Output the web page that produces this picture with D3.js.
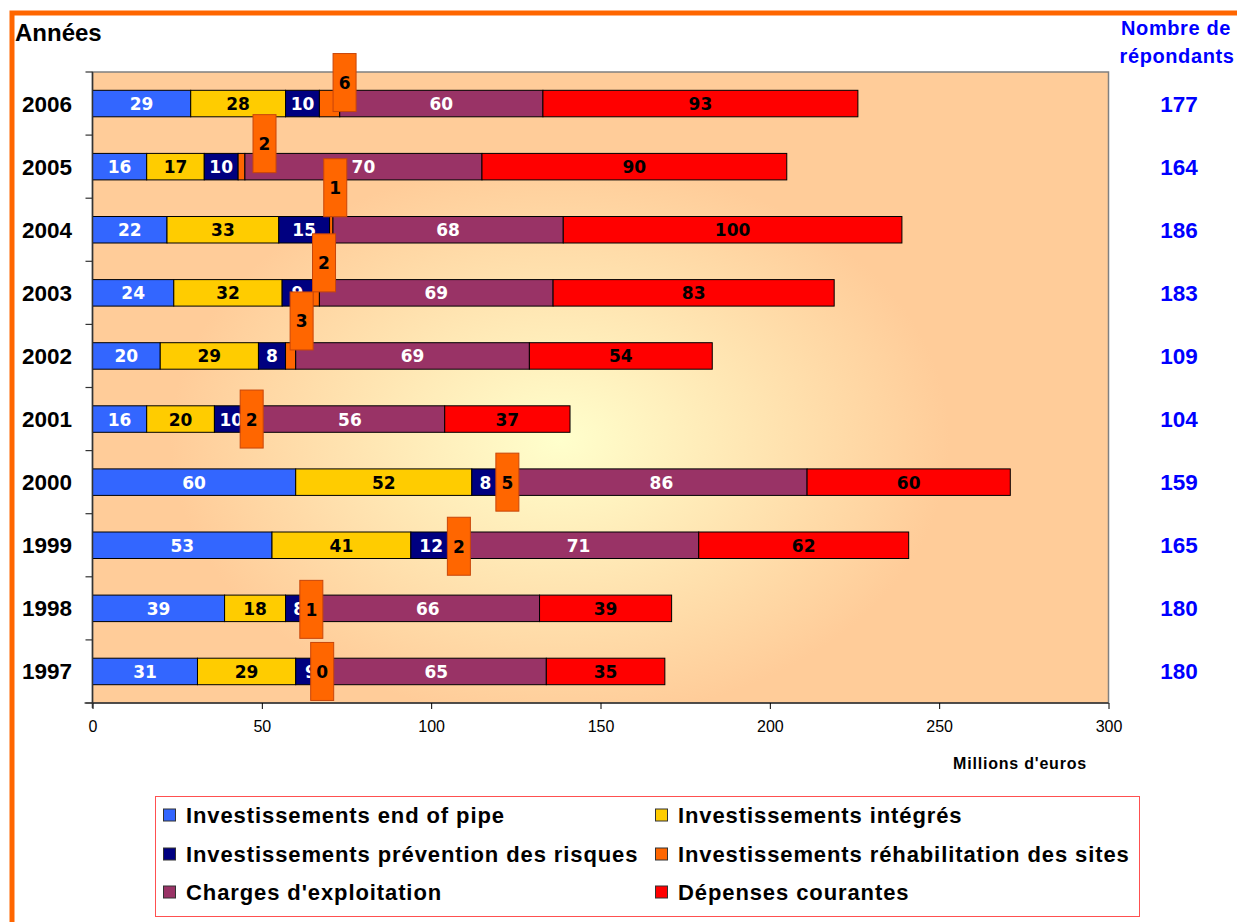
<!DOCTYPE html>
<html>
<head>
<meta charset="utf-8">
<script src="https://cdn.jsdelivr.net/npm/d3@7"></script>
<style>
  body { margin: 0; background: #ffffff; }
  svg { display: block; }
</style>
</head>
<body>
<svg id="chart" width="1237" height="922"></svg>
<script>
// Dépenses environnementales par année (millions d'euros)
const years = ["2006", "2005", "2004", "2003", "2002", "2001", "2000", "1999", "1998", "1997"];
const endOfPipe      = [29, 16, 22, 24, 20, 16, 60, 53, 39, 31];
const integres       = [28, 17, 33, 32, 29, 20, 52, 41, 18, 29];
const prevention     = [10, 10, 15,  9,  8, 10,  8, 12,  8,  9];
const rehabilitation = [ 6,  2,  1,  2,  3,  2,  5,  2,  1,  0];
const charges        = [60, 70, 68, 69, 69, 56, 86, 71, 66, 65];
const depenses       = [93, 90, 100, 83, 54, 37, 60, 62, 39, 35];
const respondants    = [177, 164, 186, 183, 109, 104, 159, 165, 180, 180];
const xTicks = [0, 50, 100, 150, 200, 250, 300];
const seriesNames = [
  "Investissements end of pipe",
  "Investissements intégrés",
  "Investissements prévention des risques",
  "Investissements réhabilitation des sites",
  "Charges d'exploitation",
  "Dépenses courantes"
];

// styling
const seriesColors = ["#3366FF", "#FFCC00", "#000080", "#FF6600", "#993366", "#FF0000"];
const labelColors  = ["#ffffff", "#000000", "#ffffff", "#000000", "#ffffff", "#000000"];
const REHAB = 3;
// the réhabilitation callouts were moved by hand off their segments (px: dx, dy)
const calloutShift = [[15, -21], [23, -23], [4, -42], [8, -30], [11, -35],
                      [0, 0], [0, 0], [4, 1], [-3, 1], [-4, 0]];

const values = [endOfPipe, integres, prevention, rehabilitation, charges, depenses];
const table = years.map((year, i) => {
  const row = { year };
  seriesNames.forEach((s, k) => row[s] = values[k][i]);
  return row;
});
const stacked = d3.stack().keys(seriesNames)(table);

const plot = { left: 92.5, right: 1108.5, top: 72, bottom: 703 };
const svg = d3.select("#chart");
const labelFont = "'DejaVu Sans', sans-serif";
const textFont = "'Liberation Sans', Arial, sans-serif";

const x = d3.scaleLinear().domain([0, 300]).range([plot.left, plot.right]);
const y = d3.scaleBand().domain(years).range([plot.top, plot.bottom]);
const barH = 26.5;
const yc = d => y(d) + y.bandwidth() / 2;

// outer orange frame
svg.append("rect")
  .attr("x", 12).attr("y", 13).attr("width", 1260).attr("height", 940)
  .attr("fill", "none").attr("stroke", "#FF6600").attr("stroke-width", 5);

// plot background gradient
const defs = svg.append("defs");
const grad = defs.append("radialGradient").attr("id", "bg")
  .attr("gradientUnits", "userSpaceOnUse")
  .attr("cx", 560).attr("cy", 440).attr("r", 520)
  .attr("gradientTransform", "translate(560,440) scale(1,0.72) translate(-560,-440)");
grad.append("stop").attr("offset", "0%").attr("stop-color", "#FFFFCC");
grad.append("stop").attr("offset", "75%").attr("stop-color", "#FFCC99");
grad.append("stop").attr("offset", "100%").attr("stop-color", "#FFCC99");

svg.append("rect")
  .attr("x", plot.left).attr("y", plot.top)
  .attr("width", plot.right - plot.left).attr("height", plot.bottom - plot.top)
  .attr("fill", "url(#bg)").attr("stroke", "#808080").attr("stroke-width", 1.5);

// bars
const layers = svg.append("g").selectAll("g").data(stacked).join("g")
  .attr("fill", (d, k) => seriesColors[k]);
layers.selectAll("rect").data(d => d).join("rect")
  .attr("x", d => x(d[0]))
  .attr("y", d => yc(d.data.year) - barH / 2)
  .attr("width", d => x(d[1]) - x(d[0]))
  .attr("height", barH)
  .attr("stroke", "#000").attr("stroke-width", 1);

// segment labels (except réhabilitation)
stacked.forEach((layer, k) => {
  if (k === REHAB) return;
  svg.append("g").selectAll("text").data(layer).join("text")
    .attr("x", d => x((d[0] + d[1]) / 2))
    .attr("y", d => yc(d.data.year) + 6.5)
    .attr("text-anchor", "middle")
    .attr("font-family", labelFont).attr("font-weight", "bold").attr("font-size", 17)
    .attr("fill", labelColors[k])
    .text(d => d[1] - d[0]);
});

// axes
const xAxis = svg.append("g").attr("transform", `translate(0,${plot.bottom})`)
  .call(d3.axisBottom(x).tickValues(xTicks).tickSize(6).tickPadding(12).tickSizeOuter(0));
xAxis.select(".domain").remove();
xAxis.selectAll("line").attr("stroke", "#000");
xAxis.selectAll("text").attr("font-family", textFont).attr("font-size", 16).attr("fill", "#000");
svg.append("line").attr("x1", plot.left - 8).attr("x2", plot.right)
  .attr("y1", plot.bottom).attr("y2", plot.bottom).attr("stroke", "#000").attr("stroke-width", 1.2);
svg.append("line").attr("x1", plot.left).attr("x2", plot.left)
  .attr("y1", plot.top).attr("y2", plot.bottom + 5).attr("stroke", "#333").attr("stroke-width", 1.5);

// category boundary ticks on the left axis
const bounds = years.map(d => y(d)).concat([plot.bottom]);
svg.append("g").selectAll("line").data(bounds).join("line")
  .attr("x1", plot.left - 7).attr("x2", plot.left)
  .attr("y1", d => d).attr("y2", d => d)
  .attr("stroke", "#333").attr("stroke-width", 1.2);

// year labels
svg.append("g").selectAll("text").data(years).join("text")
  .attr("x", 72).attr("y", d => yc(d) + 8)
  .attr("text-anchor", "end")
  .attr("font-family", textFont).attr("font-weight", "bold").attr("font-size", 22.5)
  .text(d => d);

// réhabilitation callouts
const rehabLayer = stacked[REHAB];
const callouts = svg.append("g").selectAll("g").data(rehabLayer).join("g")
  .attr("transform", (d, i) =>
    `translate(${x((d[0] + d[1]) / 2) + calloutShift[i][0]},${yc(d.data.year) + calloutShift[i][1]})`);
callouts.append("rect")
  .attr("x", -11.5).attr("y", -29).attr("width", 23).attr("height", 58)
  .attr("fill", "#FF6600").attr("stroke", "#C8460A").attr("stroke-width", 1);
callouts.append("text")
  .attr("y", 6.5).attr("text-anchor", "middle")
  .attr("font-family", labelFont).attr("font-weight", "bold").attr("font-size", 17)
  .attr("fill", "#000")
  .text(d => d[1] - d[0]);

// respondents column
svg.append("g").selectAll("text").data(years).join("text")
  .attr("x", 1179).attr("y", (d) => yc(d) + 8)
  .attr("text-anchor", "middle")
  .attr("font-family", textFont).attr("font-weight", "bold").attr("font-size", 22.5)
  .attr("fill", "#0000FF")
  .text((d, i) => respondants[i]);

svg.append("text").attr("x", 1176).attr("y", 35).attr("text-anchor", "middle")
  .attr("font-family", textFont).attr("font-weight", "bold").attr("font-size", 20)
  .attr("letter-spacing", 0.6).attr("fill", "#0000FF").text("Nombre de");
svg.append("text").attr("x", 1177).attr("y", 63).attr("text-anchor", "middle")
  .attr("font-family", textFont).attr("font-weight", "bold").attr("font-size", 20)
  .attr("letter-spacing", 0.6).attr("fill", "#0000FF").text("répondants");

// titles
svg.append("text").attr("x", 15).attr("y", 41)
  .attr("font-family", textFont).attr("font-weight", "bold").attr("font-size", 24)
  .text("Années");
svg.append("text").attr("x", 1087).attr("y", 769).attr("text-anchor", "end")
  .attr("font-family", textFont).attr("font-weight", "bold").attr("font-size", 16)
  .attr("letter-spacing", 0.8)
  .text("Millions d'euros");

// legend
const legend = svg.append("g");
legend.append("rect").attr("x", 155.5).attr("y", 796.5).attr("width", 984).attr("height", 120)
  .attr("fill", "#fff").attr("stroke", "#FF5050").attr("stroke-width", 1);
const items = legend.selectAll("g").data(seriesNames).join("g")
  .attr("transform", (d, k) => `translate(${k % 2 === 0 ? 163 : 655},${[815, 854, 892][Math.floor(k / 2)]})`);
items.append("rect").attr("x", 0.5).attr("y", -6).attr("width", 12).attr("height", 12)
  .attr("fill", (d, k) => seriesColors[k]).attr("stroke", "#333").attr("stroke-width", 1);
items.append("text").attr("x", 23).attr("y", 8)
  .attr("font-family", textFont).attr("font-weight", "bold").attr("font-size", 22)
  .attr("letter-spacing", 0.9)
  .text(d => d);
</script>
</body>
</html>
